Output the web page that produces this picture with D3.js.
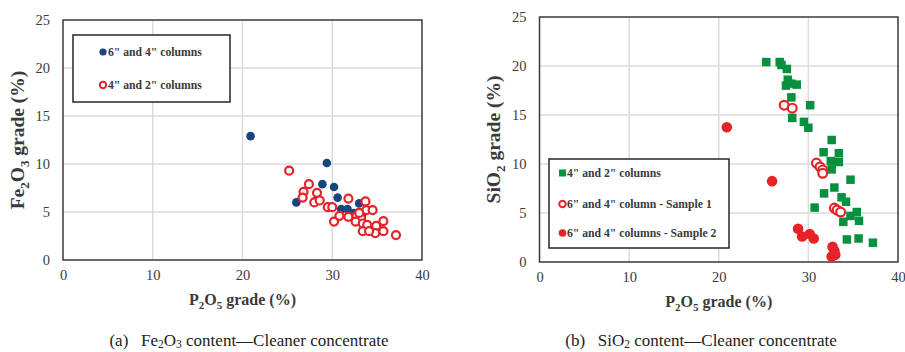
<!DOCTYPE html>
<html>
<head>
<meta charset="utf-8">
<script src="https://cdn.jsdelivr.net/npm/d3@7"></script>
<style>
  html, body { margin: 0; padding: 0; background: #fff; }
  svg { display: block; }
  text { font-family: "Liberation Serif", "Times New Roman", serif; }
</style>
</head>
<body>
<svg id="chart" width="905" height="352"></svg>
<script>
// ---------- data ----------
const xTicks = [0, 10, 20, 30, 40];
const yTicks = [0, 5, 10, 15, 20, 25];

// Panel (a): Fe2O3 vs P2O5
const fe_6and4 = [
  [20.9, 12.9], [29.4, 10.1], [28.9, 7.9], [30.2, 7.6], [30.6, 6.5], [26.0, 6.0],
  [31.0, 5.3], [31.7, 5.3], [33.0, 5.9], [28.3, 6.3], [32.4, 4.9], [33.3, 4.6]
];
const fe_4and2 = [
  [25.2, 9.3], [27.4, 7.9], [26.8, 7.1], [28.3, 7.0], [26.7, 6.5], [28.0, 6.0],
  [28.6, 6.2], [29.5, 5.5], [30.0, 5.5], [31.8, 6.4], [33.7, 6.1], [33.8, 5.2],
  [34.5, 5.2], [30.2, 4.0], [30.8, 4.6], [31.8, 4.5], [32.7, 4.6], [33.2, 4.35],
  [32.6, 4.0], [33.4, 3.8], [33.9, 3.65], [33.4, 3.0], [34.9, 3.55], [35.7, 4.05],
  [34.8, 2.8], [35.7, 3.0], [37.1, 2.6], [34.1, 3.0], [33.0, 4.9]
];

// Panel (b): SiO2 vs P2O5
const si_4and2 = [
  [25.3, 20.4], [26.8, 20.4], [27.0, 20.1], [27.6, 19.7], [27.7, 18.6], [27.5, 18.0],
  [28.1, 18.2], [28.7, 18.1], [28.1, 16.8], [30.2, 16.0], [28.2, 14.7], [29.5, 14.3],
  [30.0, 13.7], [32.6, 12.45], [31.7, 11.2], [33.4, 11.1], [32.5, 10.3], [33.4, 10.2],
  [32.6, 9.45], [34.7, 8.4], [32.9, 7.6], [31.75, 7.0], [33.7, 6.6], [34.2, 6.15],
  [30.7, 5.55], [35.4, 5.1], [34.7, 4.7], [35.65, 4.2], [33.9, 4.1], [34.3, 2.3],
  [35.6, 2.4], [37.2, 1.97]
];
const si_sample1 = [
  [27.3, 16.0], [28.2, 15.7], [30.9, 10.1], [31.3, 9.7], [31.6, 9.4], [31.6, 9.05],
  [32.9, 5.5], [33.2, 5.3], [33.6, 5.1]
];
const si_sample2 = [
  [20.9, 13.75], [25.95, 8.25], [28.85, 3.4], [29.3, 2.6], [30.15, 2.85], [30.6, 2.4],
  [32.7, 1.55], [32.9, 1.15], [32.6, 0.55], [33.0, 0.75]
];

const legendA = ['6" and 4" columns', '4" and 2" columns'];
const legendB = ['4" and 2" columns', '6" and 4" column - Sample 1', '6" and 4" columns - Sample 2'];

// ---------- styles ----------
const BLUE = '#17467c';
const RED = '#e52329';
const GREEN = '#07913f';
const GRID = '#dcdcdc';
const AXIS = '#3a3a3a';
const TEXT = '#3a3a3a';

const svg = d3.select('#chart');

function addSubText(sel, parts, baseSize, subSize, subDy) {
  let shift = 0;
  parts.forEach(([s, sub]) => {
    const t = sel.append('tspan').text(s);
    if (sub) {
      t.attr('font-size', subSize).attr('dy', subDy - shift);
      shift = subDy;
    } else {
      t.attr('font-size', baseSize).attr('dy', -shift);
      shift = 0;
    }
  });
}

function panel(opt) {
  const x = d3.scaleLinear().domain([0, 40]).range([opt.left, opt.right]);
  const y = d3.scaleLinear().domain([0, 25]).range([opt.bottom, opt.top]);
  const g = svg.append('g');

  // gridlines
  g.append('g').selectAll('line').data(xTicks.slice(1, -1)).join('line')
    .attr('x1', d => x(d)).attr('x2', d => x(d))
    .attr('y1', opt.top).attr('y2', opt.bottom)
    .attr('stroke', GRID).attr('stroke-width', 1.5);
  g.append('g').selectAll('line').data(yTicks.slice(1, -1)).join('line')
    .attr('y1', d => y(d)).attr('y2', d => y(d))
    .attr('x1', opt.left).attr('x2', opt.right)
    .attr('stroke', GRID).attr('stroke-width', 1.5);

  // axes (labels only)
  const xAxis = d3.axisBottom(x).tickValues(xTicks).tickSize(0).tickPadding(10);
  const xg = g.append('g').attr('transform', `translate(0,${opt.bottom})`).call(xAxis);
  xg.select('.domain').remove();
  xg.selectAll('text').attr('font-size', 14.5).attr('fill', TEXT)
    .attr('font-family', '"Liberation Serif", serif');

  const yAxis = d3.axisLeft(y).tickValues(yTicks).tickSize(0).tickPadding(13);
  const yg = g.append('g').attr('transform', `translate(${opt.left},0)`).call(yAxis);
  yg.select('.domain').remove();
  yg.selectAll('text').attr('font-size', 14.5).attr('fill', TEXT)
    .attr('font-family', '"Liberation Serif", serif');

  // plot border
  g.append('rect')
    .attr('x', opt.left).attr('y', opt.top)
    .attr('width', opt.right - opt.left).attr('height', opt.bottom - opt.top)
    .attr('fill', 'none').attr('stroke', AXIS).attr('stroke-width', 1.5);

  // axis titles
  const xt = g.append('text')
    .attr('x', (opt.left + opt.right) / 2).attr('y', opt.bottom + 45)
    .attr('text-anchor', 'middle').attr('font-weight', 'bold').attr('fill', TEXT);
  addSubText(xt, [['P', false], ['2', true], ['O', false], ['5', true], [' grade (%)', false]], 16, 11, 4);

  const yt = g.append('text')
    .attr('transform', `translate(${opt.ytx},${(opt.top + opt.bottom) / 2}) rotate(-90)`)
    .attr('text-anchor', 'middle').attr('font-weight', 'bold').attr('fill', TEXT);
  addSubText(yt, opt.ytitle, 19.5, 13, 5);

  // caption
  const cap = g.append('text')
    .attr('x', opt.capx).attr('y', 346)
    .attr('fill', '#222').attr('text-anchor', 'middle');
  addSubText(cap, opt.caption, 17, 11.5, 1.5);

  return {x, y, g};
}

// ---------- panel (a) ----------
const A = panel({
  left: 63, right: 422, top: 20, bottom: 260, ytx: 24, capx: 249,
  ytitle: [['Fe', false], ['2', true], ['O', false], ['3', true], [' grade (%)', false]],
  caption: [['(a)\u00a0\u00a0\u00a0Fe', false], ['2', true], ['O', false], ['3', true], [' content\u2014Cleaner concentrate', false]]
});
A.g.append('g').selectAll('circle').data(fe_6and4).join('circle')
  .attr('cx', d => A.x(d[0])).attr('cy', d => A.y(d[1])).attr('r', 4.3)
  .attr('fill', BLUE);
A.g.append('g').selectAll('circle').data(fe_4and2).join('circle')
  .attr('cx', d => A.x(d[0])).attr('cy', d => A.y(d[1])).attr('r', 4.0)
  .attr('fill', '#fff').attr('stroke', RED).attr('stroke-width', 2.2);

// legend (a)
const la = A.g.append('g');
la.append('rect').attr('x', 73).attr('y', 35).attr('width', 157).attr('height', 67)
  .attr('fill', '#fff').attr('stroke', '#262626').attr('stroke-width', 1.5);
la.append('circle').attr('cx', 103).attr('cy', 52).attr('r', 3.6).attr('fill', BLUE);
la.append('circle').attr('cx', 103).attr('cy', 85).attr('r', 3.2).attr('fill', '#fff')
  .attr('stroke', RED).attr('stroke-width', 2);
legendA.forEach((t, i) => {
  la.append('text').attr('x', 108).attr('y', [52, 85][i] + 4)
    .attr('font-size', 11.7).attr('font-weight', 'bold').attr('fill', TEXT).text(t);
});

// ---------- panel (b) ----------
const B = panel({
  left: 539.5, right: 898, top: 17, bottom: 262, ytx: 500, capx: 701,
  ytitle: [['SiO', false], ['2', true], [' grade (%)', false]],
  caption: [['(b)\u00a0\u00a0\u00a0SiO', false], ['2', true], [' content\u2014Cleaner concentrate', false]]
});
const sq = 8.5;
B.g.append('g').selectAll('rect').data(si_4and2).join('rect')
  .attr('x', d => B.x(d[0]) - sq / 2).attr('y', d => B.y(d[1]) - sq / 2)
  .attr('width', sq).attr('height', sq).attr('fill', GREEN);
B.g.append('g').selectAll('circle').data(si_sample1).join('circle')
  .attr('cx', d => B.x(d[0])).attr('cy', d => B.y(d[1])).attr('r', 4.4)
  .attr('fill', '#fff').attr('stroke', RED).attr('stroke-width', 2.2);
B.g.append('g').selectAll('circle').data(si_sample2).join('circle')
  .attr('cx', d => B.x(d[0])).attr('cy', d => B.y(d[1])).attr('r', 5.3)
  .attr('fill', RED);

// legend (b)
const lb = B.g.append('g');
lb.append('rect').attr('x', 549).attr('y', 159).attr('width', 180).attr('height', 89)
  .attr('fill', '#fff').attr('stroke', '#262626').attr('stroke-width', 1.5);
lb.append('rect').attr('x', 559).attr('y', 169.5).attr('width', 7).attr('height', 7).attr('fill', GREEN);
lb.append('circle').attr('cx', 562.5).attr('cy', 204).attr('r', 3.2).attr('fill', '#fff')
  .attr('stroke', RED).attr('stroke-width', 2);
lb.append('circle').attr('cx', 562.5).attr('cy', 233).attr('r', 3.8).attr('fill', RED);
legendB.forEach((t, i) => {
  lb.append('text').attr('x', 567).attr('y', [173, 204, 233][i] + 4)
    .attr('font-size', 11.7).attr('font-weight', 'bold').attr('fill', TEXT).text(t);
});
</script>
</body>
</html>
